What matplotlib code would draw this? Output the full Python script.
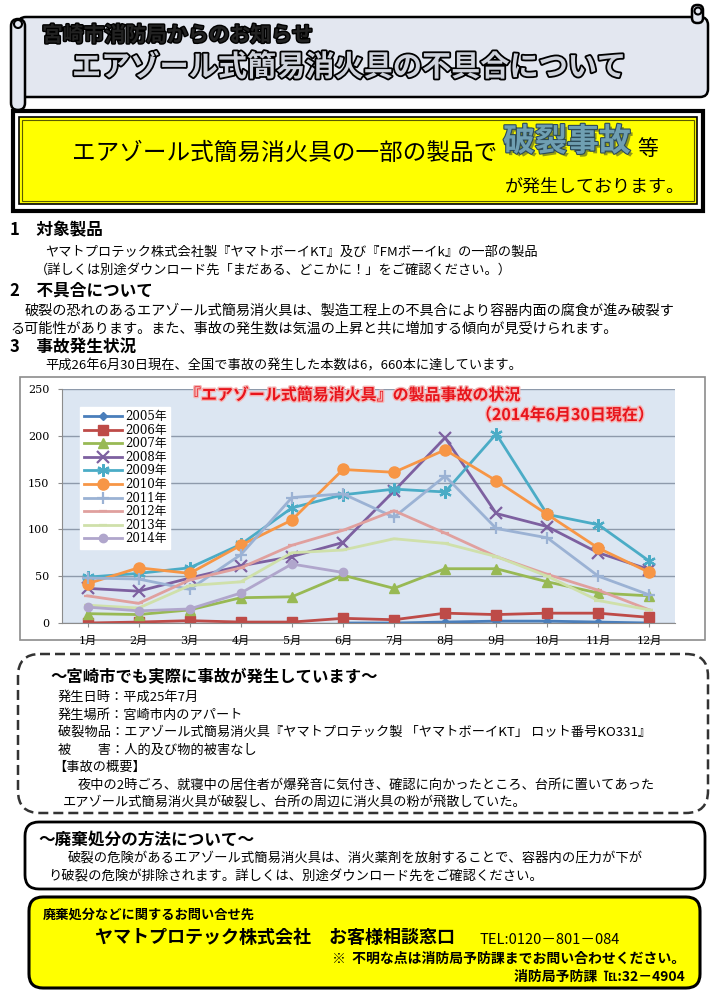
import matplotlib
matplotlib.use('Agg')
import matplotlib.pyplot as plt
import matplotlib.patheffects as pe
from matplotlib.patches import FancyBboxPatch, Rectangle
import numpy as np

plt.rcParams['font.family'] = ['Noto Sans CJK JP', 'DejaVu Sans']

# 月別の事故件数
months = ['1月', '2月', '3月', '4月', '5月', '6月', '7月', '8月', '9月', '10月', '11月', '12月']
nan = np.nan
y2005 = [nan, nan, nan, nan, nan, 0, 0, 1, 2, 2, 1, 0]
y2006 = [0, 1, 2.5, 1, 1, 5, 3.5, 10.5, 9, 10.5, 10.5, 6]
y2007 = [10, 9, 14, 27, 28, 51, 37, 58, 58, 44, 32, 29]
y2008 = [37, 34, 48, 61, 71, 86, 141, 198, 117, 103, 75, 57]
y2009 = [49, 53, 59, 84, 123, 137, 143, 140, 202, 116, 105, 66]
y2010 = [42, 59, 53, 83, 110, 164, 161, 185, 152, 116, 80, 54]
y2011 = [48, 47, 36, 73, 134, 138, 113, 157, 101, 91, 50, 30]
y2012 = [29, 21, 46, 59, 83, 99, 120, 96, 71, 52, 35, 14]
y2013 = [19, 16, 40, 44, 75, 78, 90, 85, 71, 50, 24, 14]
y2014 = [17, 13, 15, 32, 63, 54, nan, nan, nan, nan, nan, nan]

series = [('2005年', y2005, '#4a7ebb', 'D', 4),
          ('2006年', y2006, '#be4b48', 's', 7),
          ('2007年', y2007, '#98b954', '^', 7),
          ('2008年', y2008, '#7d60a0', 'x', 8),
          ('2009年', y2009, '#4bacc6', (6, 2, 0), 9),
          ('2010年', y2010, '#f79646', 'o', 8),
          ('2011年', y2011, '#9bb2d4', '+', 8),
          ('2012年', y2012, '#e0a09e', '_', 6),
          ('2013年', y2013, '#cfe0aa', '_', 6),
          ('2014年', y2014, '#b0a6cc', 'o', 6)]

W, H = 720, 1000
fig = plt.figure(figsize=(7.2, 10), dpi=100)

page = fig.add_axes([0, 0, 1, 1])
page.set_xlim(0, W)
page.set_ylim(H, 0)
page.axis('off')


def txt(ax, x, y, s, size=10.5, weight='normal', ha='left', **kw):
    ax.text(x, y, s, fontsize=size, fontweight=weight, ha=ha, va='center', **kw)


# 巻物風の見出し
page.add_patch(FancyBboxPatch((18, 17), 690, 80, boxstyle='round,pad=0,rounding_size=8',
                              fc='#e3e7f0', ec='black', lw=1.8))
page.add_patch(FancyBboxPatch((11, 19), 14, 91, boxstyle='round,pad=0,rounding_size=7',
                              fc='#e3e7f0', ec='black', lw=1.8))
page.add_patch(plt.Circle((18, 24), 4, fc='none', ec='black', lw=1.5))
page.add_patch(FancyBboxPatch((692, 5), 11, 18, boxstyle='round,pad=0,rounding_size=5',
                              fc='#e3e7f0', ec='black', lw=1.8))
page.add_patch(plt.Circle((698, 11), 3.5, fc='none', ec='black', lw=1.5))
txt(page, 42, 35, '宮崎市消防局からのお知らせ', 15, 'bold', color='#222222',
    path_effects=[pe.withStroke(linewidth=2, foreground='black')])
txt(page, 72, 67, 'エアゾール式簡易消火具の不具合について', 21, 'bold', color='#cfd3dc',
    path_effects=[pe.withStroke(linewidth=2.6, foreground='black')])

# 黄色の囲み
page.add_patch(Rectangle((13, 111), 690, 100, fc='white', ec='black', lw=3))
page.add_patch(Rectangle((19, 117), 678, 87, fc='#ffff00', ec='black', lw=1.2))
page.add_patch(Rectangle((22, 120), 672, 81, fc='none', ec='#5a5a00', lw=0.8))
txt(page, 72, 153, 'エアゾール式簡易消火具の一部の製品で', 17)
txt(page, 637, 149, '等', 15)
txt(page, 503, 142, '破裂事故', 23, 'bold', color='#6f9fb2',
    path_effects=[pe.SimplePatchShadow(offset=(2, -2), alpha=0.5),
                  pe.withStroke(linewidth=1.6, foreground='#2c4a58')])
txt(page, 685, 187, 'が発生しております。', 13, ha='right')

# 本文
txt(page, 10, 230, '1　対象製品', 12, 'bold')
txt(page, 45, 252, 'ヤマトプロテック株式会社製『ヤマトボーイKT』及び『FMボーイk』の一部の製品', 9.5)
txt(page, 35, 270, '（詳しくは別途ダウンロード先「まだある、どこかに！」をご確認ください。）', 9.5)
txt(page, 10, 291, '2　不具合について', 12, 'bold')
txt(page, 25, 311, '破裂の恐れのあるエアゾール式簡易消火具は、製造工程上の不具合により容器内面の腐食が進み破裂す', 10.2)
txt(page, 10, 328, 'る可能性があります。また、事故の発生数は気温の上昇と共に増加する傾向が見受けられます。', 10.2)
txt(page, 10, 347, '3　事故発生状況', 12, 'bold')
txt(page, 45, 366, '平成26年6月30日現在、全国で事故の発生した本数は6，660本に達しています。', 9.5)

# グラフの枠
page.add_patch(Rectangle((20, 377), 685, 263, fc='white', ec='#8c8c8c', lw=1.2))

# 事故事例 (点線の囲み)
page.add_patch(FancyBboxPatch((18, 654), 690, 159, boxstyle='round,pad=0,rounding_size=22',
                              fc='white', ec='#333333', lw=1.8, ls=(0, (4, 2))))
txt(page, 50, 677, '～宮崎市でも実際に事故が発生しています～', 11.8, 'bold')
txt(page, 58, 697, '発生日時：平成25年7月', 9.5)
txt(page, 58, 715, '発生場所：宮崎市内のアパート', 9.5)
txt(page, 58, 732, '破裂物品：エアゾール式簡易消火具『ヤマトプロテック製 「ヤマトボーイKT」 ロット番号KO331』', 9.5)
txt(page, 58, 750, '被　　害：人的及び物的被害なし', 9.5)
txt(page, 53, 767, '【事故の概要】', 9.5)
txt(page, 78, 785, '夜中の2時ごろ、就寝中の居住者が爆発音に気付き、確認に向かったところ、台所に置いてあった', 9.5)
txt(page, 63, 802, 'エアゾール式簡易消火具が破裂し、台所の周辺に消火具の粉が飛散していた。', 9.5)

# 廃棄処分
page.add_patch(FancyBboxPatch((25, 822), 680, 67, boxstyle='round,pad=0,rounding_size=14',
                              fc='white', ec='black', lw=2))
txt(page, 38, 840, '～廃棄処分の方法について～', 12, 'bold')
txt(page, 68, 858, '破裂の危険があるエアゾール式簡易消火具は、消火薬剤を放射することで、容器内の圧力が下が', 9.6)
txt(page, 48, 877, 'り破裂の危険が排除されます。詳しくは、別途ダウンロード先をご確認ください。', 9.6)

# 問い合わせ先
page.add_patch(FancyBboxPatch((29, 897), 671, 91, boxstyle='round,pad=0,rounding_size=14',
                              fc='#ffff00', ec='black', lw=2.2))
txt(page, 43, 915, '廃棄処分などに関するお問い合せ先', 9.5, 'bold')
txt(page, 95, 937, 'ヤマトプロテック株式会社　お客様相談窓口', 13, 'bold')
txt(page, 480, 940, 'TEL:0120－801－084', 10.5)
txt(page, 685, 959, '※  不明な点は消防局予防課までお問い合わせください。', 10, 'bold', ha='right')
txt(page, 685, 977, '消防局予防課  ℡:32－4904', 10, 'bold', ha='right')

# 折れ線グラフ
ax = fig.add_axes([62 / W, 1 - 623 / H, 613 / W, 234 / H])
ax.set_facecolor('#dce6f2')
x = np.arange(len(months))
for name, vals, col, mk, ms in series:
    mew = 1.6 if mk in ('x', '+', '_') or isinstance(mk, tuple) else 1
    ax.plot(x, vals, color=col, lw=2, marker=mk, ms=ms, mew=mew, label=name)
ax.set_xlim(-0.5, 11.5)
ax.set_ylim(0, 250)
ax.set_yticks(range(0, 251, 50))
ax.set_xticks(x)
serif = ['DejaVu Serif', 'Noto Sans CJK JP']
ax.set_xticklabels(months, fontsize=8, family=serif)
ax.set_yticklabels([str(v) for v in range(0, 251, 50)], fontsize=8, family=serif)
ax.grid(axis='y', color='#8e9aab', lw=1)
ax.set_axisbelow(True)
for side in ('top', 'right'):
    ax.spines[side].set_visible(False)
ax.spines['left'].set_color('#8c8c8c')
ax.spines['bottom'].set_color('#8c8c8c')
ax.tick_params(axis='both', length=3, color='#8c8c8c', pad=6)
leg = ax.legend(loc='upper left', bbox_to_anchor=(0.03, 0.925), borderaxespad=0,
                prop={'family': serif, 'size': 8.5}, handlelength=3.2, labelspacing=0.05,
                borderpad=0.3, handletextpad=0.3, fancybox=False, framealpha=1)
leg.get_frame().set_edgecolor('white')

# グラフのタイトル (最前面)
top = fig.add_axes([0, 0, 1, 1], zorder=10)
top.set_xlim(0, W)
top.set_ylim(H, 0)
top.axis('off')
red_fx = [pe.withStroke(linewidth=2, foreground='#f4b8b8')]
txt(top, 185, 395, '『エアゾール式簡易消火具』の製品事故の状況', 11.5, 'bold', color='#e8141b',
    path_effects=red_fx)
txt(top, 476, 415, '（2014年6月30日現在）', 11.5, 'bold', color='#e8141b', path_effects=red_fx)

fig.savefig('out.png', dpi=100)
